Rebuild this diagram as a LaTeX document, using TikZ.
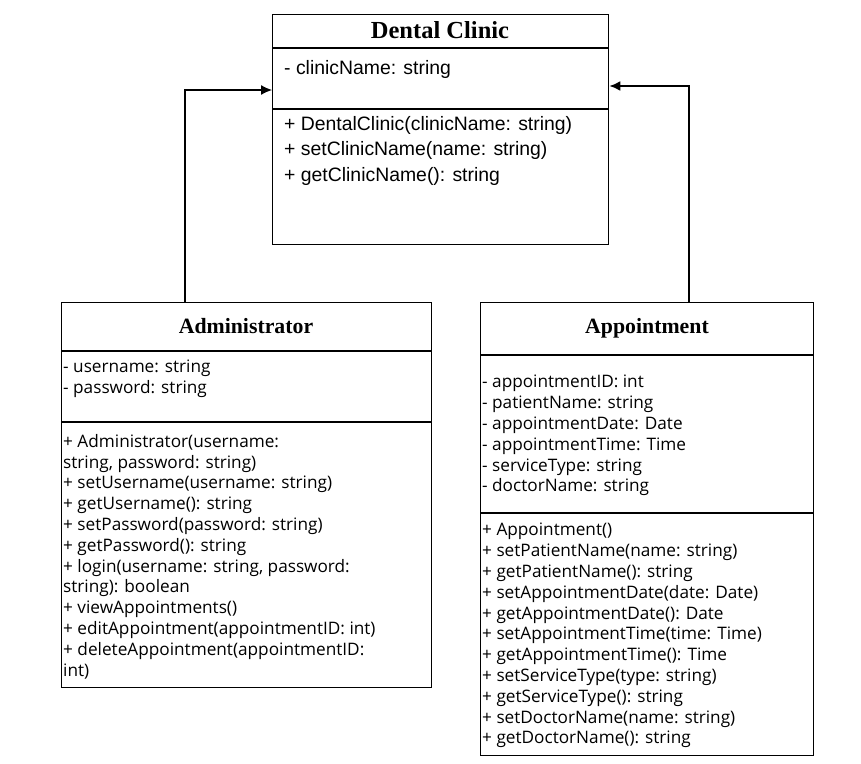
\documentclass[tikz,border=0pt]{standalone}
\usepackage{fontspec}
\setmainfont{Liberation Serif}
\newfontfamily\opensans{Open Sans}
\newfontfamily\arialfont{Liberation Sans}
\usetikzlibrary{arrows.meta,positioning}

\tikzset{
    classbox/.style={draw, line width=1.3pt, rectangle, anchor=north west, inner sep=0pt},
    classtitle/.style={anchor=base, inner sep=0pt, font=\bfseries\fontsize{21.8}{24}\selectfont},
    members/.style={anchor=north west, align=left, inner sep=0pt, font=\opensans\fontsize{17.2}{20.8}\selectfont},
    clinicmembers/.style={members, font=\arialfont\fontsize{19.4}{25.5}\selectfont},
    inherit/.style={-{Latex[length=11pt,width=10pt]}, line width=1.2pt},
}

\begin{document}
\begin{tikzpicture}[x=1pt,y=-1pt]
    \useasboundingbox (0,0) rectangle (861,763);

    % class boxes
    \node[classbox, minimum width=336pt, minimum height=230pt] (clinic) at (272,14) {};
    \node[classbox, minimum width=370pt, minimum height=385pt] (admin) at (61,302) {};
    \node[classbox, minimum width=333pt, minimum height=453pt] (appt) at (480,302) {};

    % compartment lines
    \foreach \cls/\ya/\yb in {clinic/48/109, admin/351/422, appt/355/513}{
        \draw[line width=1.3pt] (\cls.west |- 0,\ya) -- (\cls.east |- 0,\ya);
        \draw[line width=1.3pt] (\cls.west |- 0,\yb) -- (\cls.east |- 0,\yb);
    }

    % Dental Clinic
    \node[classtitle, font=\bfseries\fontsize{24.5}{27}\selectfont] (clinictitle) at (440,38.5) {Dental Clinic};
    \node[clinicmembers] (clinicattr) at (284,60) {- clinicName: string};
    \node[clinicmembers] (clinicops) at (284,116) {+ DentalClinic(clinicName: string)\\
        + setClinicName(name: string)\\
        + getClinicName(): string};

    % Administrator
    \node[classtitle] (admintitle) at (246,333.5) {Administrator};
    \node[members] (adminattr) at (63,360) {- username: string\\
        - password: string};
    \node[members] (adminops) at (63,434) {+ Administrator(username:\\
        string, password: string)\\
        + setUsername(username: string)\\
        + getUsername(): string\\
        + setPassword(password: string)\\
        + getPassword(): string\\
        + login(username: string, password:\\
        string): boolean\\
        + viewAppointments()\\
        + editAppointment(appointmentID: int)\\
        + deleteAppointment(appointmentID:\\
        int)};

    % Appointment
    \node[classtitle] (appttitle) at (647,333.5) {Appointment};
    \node[members] (apptattr) at (482,375) {- appointmentID: int\\
        - patientName: string\\
        - appointmentDate: Date\\
        - appointmentTime: Time\\
        - serviceType: string\\
        - doctorName: string};
    \node[members] (apptops) at (482,523) {+ Appointment()\\
        + setPatientName(name: string)\\
        + getPatientName(): string\\
        + setAppointmentDate(date: Date)\\
        + getAppointmentDate(): Date\\
        + setAppointmentTime(time: Time)\\
        + getAppointmentTime(): Time\\
        + setServiceType(type: string)\\
        + getServiceType(): string\\
        + setDoctorName(name: string)\\
        + getDoctorName(): string};

    % inheritance arrows
    \draw[inherit] ([xshift=124pt]admin.north west) |- (clinic.west |- 0,90);
    \draw[inherit, line width=2pt] ([xshift=-125pt]appt.north east) |- (clinic.east |- 0,86);
\end{tikzpicture}
\end{document}
